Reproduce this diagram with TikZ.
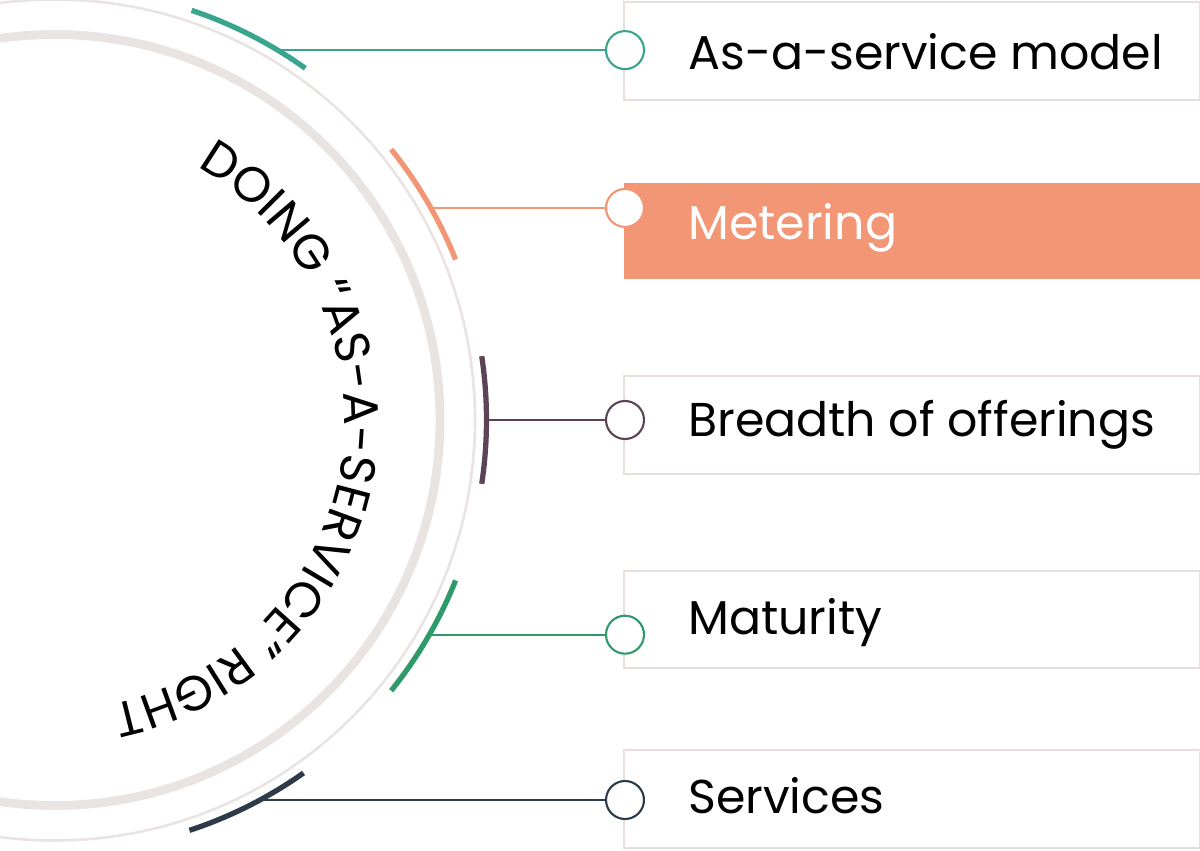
\documentclass[tikz,border=0pt]{standalone}
\usepackage{fontspec}
\setmainfont{Poppins}
\usetikzlibrary{calc,decorations.text}
\definecolor{ringgray}{HTML}{E9E4E2}
\definecolor{boxgray}{HTML}{E6DFDB}
\definecolor{teal}{HTML}{3AA58F}
\definecolor{salmon}{HTML}{F29675}
\definecolor{plum}{HTML}{5A4456}
\definecolor{leaf}{HTML}{2E9A6A}
\definecolor{navy}{HTML}{2D3A48}
\tikzset{
  itembox/.style={draw=boxgray, line width=1.5pt},
  itemtext/.style={anchor=west, inner sep=0pt, font=\fontsize{27}{30}\selectfont},
  dot/.style={circle, draw, line width=1.2pt, fill=white, minimum size=0.76cm, inner sep=0pt},
  tick/.style={line width=3pt},
}
\begin{document}
\begin{tikzpicture}[x=0.02cm, y=0.02cm]
		\useasboundingbox (0,0) rectangle (1200,850);
		\clip (0,0) rectangle (1200,850);
		\coordinate (c) at (54.5,430);

		% rings
		\draw[ringgray, line width=5pt] (c) circle (385.5);
		\draw[ringgray, line width=1.5pt] (c) circle (420.5);

		% ring text
		\path[decorate, decoration={text along path, text align=center,
			text={|\fontsize{28}{28}\selectfont|DOING “AS-A-SERVICE” RIGHT}}]
			($(c)+(72:290)$) arc (72:-90:290);

		% boxes
		\draw[itembox] (624,750) rectangle (1200,848);
		\fill[salmon] (624,571) rectangle (1200,667);
		\draw[itembox] (624,376) rectangle (1200,474);
		\draw[itembox] (624,182) rectangle (1200,279);
		\draw[itembox] (624,2) rectangle (1200,100);

		% items: arc middle / line angle / colour / text / text colour / text shift
		\foreach \name/\mid/\ang/\col/\txt/\tcol/\dy in {
			one/63/58.9/teal/As-a-service model/black/-2,
			two/30.3/29.4/salmon/Metering/white/-20,
			three/0/0/plum/Breadth of offerings/black/-5,
			four/-30.3/-29.8/leaf/Maturity/black/12,
			five/-63.3/-61.6/navy/Services/black/4} {
			\draw[\col, tick] ($(c)+(\mid+8.5:432)$) arc (\mid+8.5:\mid-8.5:432);
			\coordinate (a\name) at ($(c)+(\ang:432)$);
			\node[dot, draw=\col] (m\name) at (625,0 |- a\name) {};
			\draw[\col, line width=1.2pt] (a\name) -- (m\name);
			\node[itemtext, text=\tcol] (t\name) at ($(688,0 |- a\name)+(0,\dy)$) {\txt};
		}

	\end{tikzpicture}
\end{document}
